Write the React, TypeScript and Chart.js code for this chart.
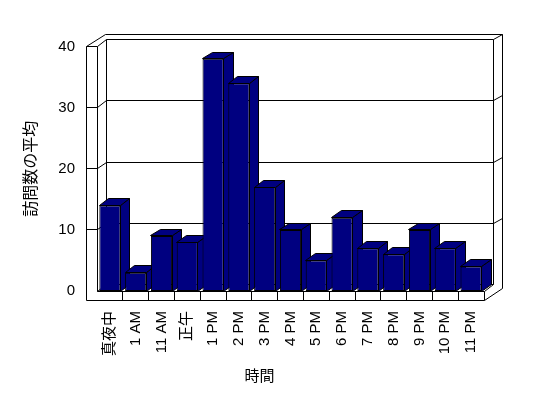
import React, { useEffect, useRef } from 'react';
import { Chart, registerables } from 'chart.js';

Chart.register(...registerables);

const categories = ['真夜中', '1 AM', '11 AM', '正午', '1 PM', '2 PM', '3 PM', '4 PM', '5 PM', '6 PM', '7 PM', '8 PM', '9 PM', '10 PM', '11 PM'];
const visits = [14, 3, 9, 8, 38, 34, 17, 10, 5, 12, 7, 6, 10, 7, 4];
const yMin = 0;
const yMax = 40;
const yStep = 10;
const yTitle = '訪問数の平均';
const xTitle = '時間';

const LATIN = "'Liberation Sans', 'Noto Sans CJK JP', sans-serif";
const CJK = "'Noto Sans CJK JP', 'Liberation Sans', sans-serif";
const NAVY = '#000080';

// 3D geometry (pixels)
const DX = 9.5;
const DY = -6.7;
const TX = 9;
const TY = -5;
const LW = 10.5;
const FT = 9;

const s = (v: number) => Math.floor(v) + 0.5;

const walls3d = {
  id: 'walls3d',
  beforeDatasetsDraw(chart: any) {
    const ctx = chart.ctx as CanvasRenderingContext2D;
    const { left: L, right: R, top: T, bottom: B } = chart.chartArea;
    const ys = chart.scales.y;
    const xs = chart.scales.x;
    ctx.save();
    ctx.strokeStyle = '#000';
    ctx.lineWidth = 1;
    const line = (pts: number[][]) => {
      ctx.beginPath();
      ctx.moveTo(s(pts[0][0]), s(pts[0][1]));
      for (let i = 1; i < pts.length; i++) ctx.lineTo(s(pts[i][0]), s(pts[i][1]));
      ctx.stroke();
    };
    // white body
    ctx.fillStyle = '#fff';
    ctx.beginPath();
    ctx.moveTo(L - LW, B + FT);
    ctx.lineTo(L - LW, T);
    ctx.lineTo(L - LW + DX + TX, T + DY + TY);
    ctx.lineTo(R + DX + TX, T + DY + TY);
    ctx.lineTo(R + DX + TX, B + FT + DY + TY);
    ctx.lineTo(R, B + FT);
    ctx.closePath();
    ctx.fill();

    // gridlines on walls
    for (let v = yMin + yStep; v <= yMax; v += yStep) {
      const py = ys.getPixelForValue(v);
      line([[L - LW, py], [L, py]]);
      line([[L, py], [L + DX, py + DY]]);
      line([[L + DX, py + DY], [R + DX, py + DY]]);
      line([[R + DX, py + DY], [R + DX + TX, py + DY + TY]]);
    }
    // floor
    line([[L, B], [L + DX, B + DY]]);
    line([[L + DX, B + DY], [R + DX, B + DY]]);
    line([[L, B], [R, B]]);
    line([[R, B], [R + DX, B + DY]]);
    // verticals
    line([[L - LW, T], [L - LW, B + FT]]);
    line([[L, T], [L, B]]);
    line([[L + DX, T + DY], [L + DX, B + DY]]);
    line([[R + DX, T + DY], [R + DX, B + DY]]);
    line([[R + DX + TX, T + DY + TY], [R + DX + TX, B + FT + DY + TY]]);
    line([[R, B], [R, B + FT]]);
    // outer top
    line([[L - LW, T], [L - LW + DX + TX, T + DY + TY], [R + DX + TX, T + DY + TY]]);
    // floor bottom
    line([[L - LW, B + FT], [R, B + FT], [R + DX + TX, B + FT + DY + TY]]);
    // category dividers on floor front
    for (let i = 1; i < categories.length; i++) {
      const bx = xs.getPixelForValue(i - 0.5);
      line([[bx, B], [bx, B + FT]]);
    }

    // bar tops and sides
    const meta = chart.getDatasetMeta(0);
    ctx.fillStyle = NAVY;
    meta.data.forEach((el: any) => {
      const { x, y, base, width } = el.getProps(['x', 'y', 'base', 'width'], true);
      const l = x - width / 2;
      const r = x + width / 2;
      const poly = (pts: number[][]) => {
        ctx.beginPath();
        ctx.moveTo(s(pts[0][0]), s(pts[0][1]));
        for (let i = 1; i < pts.length; i++) ctx.lineTo(s(pts[i][0]), s(pts[i][1]));
        ctx.closePath();
        ctx.fill();
        ctx.stroke();
      };
      poly([[r, y], [r + DX, y + DY], [r + DX, base + DY], [r, base]]);
      poly([[l, y], [r, y], [r + DX, y + DY], [l + DX, y + DY]]);
    });
    ctx.restore();
  },
  afterDraw(chart: any) {
    const ctx = chart.ctx as CanvasRenderingContext2D;
    const { left: L, right: R } = chart.chartArea;
    ctx.save();
    ctx.font = `15px ${CJK}`;
    ctx.fillStyle = '#000';
    ctx.textAlign = 'center';
    ctx.textBaseline = 'middle';
    ctx.fillText(xTitle, L + (R - L) * 0.42, 375);
    ctx.restore();
  },
};

export default function App() {
  const ref = useRef<HTMLCanvasElement | null>(null);
  useEffect(() => {
    if (!ref.current) return;
    const chart = new Chart(ref.current, {
      type: 'bar',
      data: {
        labels: categories,
        datasets: [
          {
            data: visits,
            backgroundColor: NAVY,
            borderColor: '#000',
            borderWidth: 1,
            borderSkipped: false,
            barPercentage: 0.82,
            categoryPercentage: 1,
          },
        ],
      },
      options: {
        animation: false,
        responsive: false,
        devicePixelRatio: 1,
        layout: { padding: { left: 0, right: 64, top: 46.5, bottom: 0 } },
        plugins: { legend: { display: false }, tooltip: { enabled: false } },
        scales: {
          x: {
            grid: { display: false, drawTicks: false },
            border: { display: false },
            ticks: {
              autoSkip: false,
              minRotation: 90,
              maxRotation: 90,
              padding: 20,
              color: '#000',
              font: { family: LATIN, size: 15 },
            },
            afterFit: (sc: any) => {
              sc.height = 107;
            },
          },
          y: {
            min: yMin,
            max: yMax,
            grid: { display: false, drawTicks: false },
            border: { display: false },
            ticks: {
              stepSize: yStep,
              padding: 22,
              color: '#000',
              font: { family: LATIN, size: 15 },
            },
            title: {
              display: true,
              text: yTitle,
              color: '#000',
              font: { family: CJK, size: 16 },
              padding: { top: 20.4, bottom: 0 },
            },
            afterFit: (sc: any) => {
              sc.width = 97;
            },
          },
        },
      },
      plugins: [walls3d],
    } as any);
    return () => chart.destroy();
  }, []);
  return (
    <div style={{ position: 'fixed', left: 0, top: 0, width: 548, height: 398, background: '#fff' }}>
      <canvas ref={ref} width={548} height={398} />
    </div>
  );
}
